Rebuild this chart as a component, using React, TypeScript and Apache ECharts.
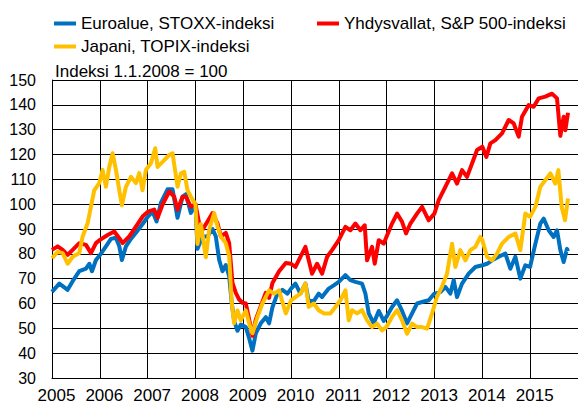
import React, { useEffect, useRef } from "react";
import * as echarts from "echarts";

const EURO_NAME = "Euroalue, STOXX-indeksi";
const USA_NAME = "Yhdysvallat, S&P 500-indeksi";
const JAPAN_NAME = "Japani, TOPIX-indeksi";
const TITLE = "Indeksi 1.1.2008 = 100";

const euroX = [
  2005.0, 2005.153, 2005.258, 2005.327, 2005.432, 2005.571, 2005.71, 2005.78, 2005.836, 2005.919,
  2006.003, 2006.128, 2006.233, 2006.337, 2006.407, 2006.462, 2006.546, 2006.65, 2006.755, 2006.894,
  2007.006, 2007.103, 2007.187, 2007.277, 2007.416, 2007.521, 2007.625, 2007.73, 2007.799, 2007.904,
  2008.0, 2008.043, 2008.148, 2008.252, 2008.357, 2008.426, 2008.496, 2008.565, 2008.635, 2008.705,
  2008.76, 2008.809, 2008.879, 2008.948, 2009.053, 2009.123, 2009.192, 2009.262, 2009.366, 2009.471,
  2009.54, 2009.61, 2009.714, 2009.819, 2009.923, 2010.0, 2010.091, 2010.195, 2010.3, 2010.369,
  2010.474, 2010.578, 2010.648, 2010.787, 2010.892, 2010.997, 2011.136, 2011.24, 2011.345, 2011.484,
  2011.554, 2011.624, 2011.728, 2011.833, 2011.937, 2011.993, 2012.111, 2012.216, 2012.321, 2012.425,
  2012.53, 2012.634, 2012.739, 2012.878, 2012.997, 2013.122, 2013.226, 2013.331, 2013.401, 2013.47,
  2013.575, 2013.714, 2013.854, 2014.0, 2014.098, 2014.202, 2014.341, 2014.481, 2014.585, 2014.69,
  2014.794, 2014.899, 2014.997, 2015.108, 2015.213, 2015.282, 2015.387, 2015.491, 2015.561, 2015.631,
  2015.7, 2015.77, 2015.791,
];
const euroY = [
  64.7, 68, 66.5, 65.5, 69, 73, 74, 76, 73, 77.5,
  79.5, 83, 86, 86.5, 83, 77.5, 83, 86, 88.5, 92,
  95, 97, 93, 100.5, 106, 106, 94.5, 103, 104, 96.5,
  100, 82, 87, 87, 90, 87, 77.5, 73, 75.5, 71,
  60, 53, 49, 51.5, 50.5, 46, 41, 48, 52, 54.5,
  52, 58.5, 64, 65.5, 64, 66, 68, 64, 68, 61,
  61, 64, 62.6, 66, 67.3, 68.7, 71.4, 69.4, 68.7, 68,
  64, 56, 52, 57, 53, 54.6, 58.6, 61.3, 57, 52,
  56, 60, 60.6, 61.3, 64, 64.6, 66.7, 64, 69.4, 62.6,
  68, 72, 74.7, 75.4, 76, 77.4, 78.8, 80.1, 74, 78.8,
  70, 75.4, 74.7, 84, 92.2, 94.2, 89.5, 86.8, 89.5, 81.5,
  76.7, 82, 81,
];

const usaX = [
  2005.0, 2005.118, 2005.223, 2005.327, 2005.432, 2005.571, 2005.71, 2005.815, 2005.919, 2006.003,
  2006.163, 2006.302, 2006.407, 2006.476, 2006.616, 2006.755, 2006.894, 2007.006, 2007.138, 2007.208,
  2007.312, 2007.451, 2007.556, 2007.625, 2007.73, 2007.799, 2007.904, 2008.0, 2008.078, 2008.148,
  2008.252, 2008.357, 2008.461, 2008.531, 2008.635, 2008.705, 2008.774, 2008.844, 2008.914, 2008.983,
  2009.053, 2009.123, 2009.192, 2009.262, 2009.366, 2009.471, 2009.54, 2009.61, 2009.749, 2009.889,
  2010.0, 2010.091, 2010.195, 2010.3, 2010.369, 2010.439, 2010.544, 2010.648, 2010.753, 2010.857,
  2010.997, 2011.136, 2011.24, 2011.345, 2011.449, 2011.54, 2011.589, 2011.693, 2011.749, 2011.833,
  2011.937, 2011.993, 2012.111, 2012.216, 2012.321, 2012.404, 2012.495, 2012.634, 2012.739, 2012.878,
  2012.997, 2013.087, 2013.226, 2013.366, 2013.47, 2013.575, 2013.679, 2013.784, 2013.889, 2014.0,
  2014.084, 2014.167, 2014.272, 2014.411, 2014.551, 2014.655, 2014.76, 2014.829, 2014.969, 2015.073,
  2015.178, 2015.317, 2015.456, 2015.561, 2015.631, 2015.7, 2015.735, 2015.791,
];
const usaY = [
  81.6, 83, 81.6, 79.6, 81.6, 84.3, 83.6, 80.3, 84.3, 85.6,
  87.6, 89, 86.3, 84.3, 87, 91, 95, 97, 97.8, 94.5,
  99.8, 105.1, 103, 97.8, 103, 103, 99, 100, 92.3, 89.7,
  93, 96.4, 92.3, 87, 88.4, 84.3, 68.3, 64.3, 61.6, 60.3,
  60, 53.6, 47, 53.6, 58.9, 64.3, 62.3, 68.3, 73, 76.3,
  76, 74.7, 78.8, 82.8, 77.4, 72, 76, 72, 78.8, 81.5,
  85.5, 90.9, 89.5, 92.2, 89.5, 91.5, 77.4, 82.8, 76, 85.5,
  84.1, 86.8, 92.2, 96.2, 92.9, 88.2, 92.2, 96.2, 98.9, 93.5,
  96.2, 101.6, 107, 112.4, 108.3, 113.7, 111, 116.4, 121.8, 123.1,
  119, 124.5, 125.8, 128.5, 133.9, 132.5, 127.2, 135.2, 139.9, 139.2,
  142.6, 143.3, 144.5, 142.6, 127.5, 135.2, 129.8, 136.8,
];

const japanX = [
  2005.0, 2005.118, 2005.223, 2005.327, 2005.432, 2005.571, 2005.641, 2005.745, 2005.815, 2005.884,
  2005.989, 2006.058, 2006.128, 2006.198, 2006.267, 2006.337, 2006.407, 2006.462, 2006.546, 2006.65,
  2006.755, 2006.825, 2006.894, 2006.964, 2007.068, 2007.159, 2007.208, 2007.312, 2007.451, 2007.521,
  2007.625, 2007.695, 2007.765, 2007.834, 2007.904, 2008.0, 2008.043, 2008.113, 2008.217, 2008.287,
  2008.391, 2008.461, 2008.531, 2008.635, 2008.705, 2008.76, 2008.809, 2008.879, 2008.948, 2009.053,
  2009.123, 2009.192, 2009.297, 2009.401, 2009.54, 2009.645, 2009.749, 2009.889, 2010.0, 2010.091,
  2010.195, 2010.3, 2010.369, 2010.474, 2010.578, 2010.683, 2010.822, 2010.927, 2011.031, 2011.136,
  2011.206, 2011.275, 2011.38, 2011.484, 2011.589, 2011.693, 2011.798, 2011.902, 2011.993, 2012.111,
  2012.216, 2012.321, 2012.425, 2012.53, 2012.634, 2012.739, 2012.843, 2012.948, 2013.049, 2013.153,
  2013.261, 2013.366, 2013.436, 2013.54, 2013.645, 2013.749, 2013.854, 2013.958, 2014.0, 2014.098,
  2014.202, 2014.307, 2014.411, 2014.551, 2014.69, 2014.794, 2014.899, 2014.997, 2015.108, 2015.213,
  2015.317, 2015.422, 2015.526, 2015.589, 2015.659, 2015.728, 2015.791,
];
const japanY = [
  78.3, 80.8, 80.3, 76, 78.8, 80.3, 87, 92.3, 99, 105.6,
  108.5, 113.8, 107, 115, 120.5, 113.8, 105.6, 99.6, 107, 111,
  108.5, 112.5, 105.6, 113.8, 116.5, 122.5, 115, 117, 119.8, 120.5,
  107, 112.4, 113, 105.6, 103, 100, 84, 92, 78.6, 89.7,
  96.4, 91, 87, 84.3, 79, 60, 52, 57.2, 53.2, 57.2,
  52, 48, 54.6, 60, 65.3, 64, 65.3, 56, 61.3, 62.6,
  64, 68, 58.6, 60, 57.3, 56, 56, 58.6, 61.3, 65.3,
  53.2, 57.3, 56, 57.3, 53.2, 50.5, 51.9, 49.2, 50.5, 54.6,
  57.3, 53.2, 47.8, 51.9, 50.5, 50.5, 49.9, 56, 62.6, 66.7,
  72, 84.1, 74.7, 81.5, 77.4, 81.5, 82.8, 86.8, 85.5, 78.8,
  77.4, 80.1, 84.1, 86.8, 88.2, 81.5, 96.2, 94.9, 98.9, 107,
  109.7, 112.4, 108.3, 113.7, 98.9, 93.5, 102.3,
];

const BLUE = "#0070C0";
const RED = "#FF0000";
const YELLOW = "#FFC000";

export default function App() {
  const ref = useRef<HTMLDivElement>(null);
  useEffect(() => {
    if (!ref.current) return;
    const chart = echarts.init(ref.current, null, { renderer: "svg" });
    const font = "'Liberation Sans', Arial, sans-serif";
    const zip = (xs: number[], ys: number[]) => xs.map((x, i) => [x, ys[i]]);
    const legendCommon = {
      icon: "rect",
      itemWidth: 22,
      itemHeight: 4,
      padding: 0,
      itemGap: 0,
      textStyle: { fontSize: 17, color: "#000", fontFamily: font },
    };
    const lineSeries = (name: string, xs: number[], ys: number[], color: string) => ({
      name,
      type: "line",
      data: zip(xs, ys),
      showSymbol: false,
      symbol: "none",
      color,
      lineStyle: { width: 4, color, join: "round" },
    });
    chart.setOption({
      animation: false,
      textStyle: { fontFamily: font },
      title: {
        text: TITLE,
        left: 55,
        top: 63,
        padding: 0,
        textStyle: { fontSize: 17, fontWeight: "normal", color: "#000", fontFamily: font },
      },
      legend: [
        { ...legendCommon, data: [EURO_NAME], left: 54, top: 15 },
        { ...legendCommon, data: [USA_NAME], left: 317, top: 15 },
        { ...legendCommon, data: [JAPAN_NAME], left: 54, top: 38 },
      ],
      grid: { left: 52, right: 0, top: 80, bottom: 27 },
      xAxis: {
        type: "value",
        min: 2005,
        max: 2016,
        interval: 1,
        axisLine: { show: true, lineStyle: { color: "#000", width: 1 } },
        axisTick: { show: false },
        splitLine: { show: true, lineStyle: { color: "#000", width: 1 } },
        axisLabel: {
          showMaxLabel: false,
          fontSize: 17,
          color: "#000",
          margin: 9,
          padding: [0, 0, 0, 9],
          fontFamily: font,
          formatter: (v: number) => String(v),
        },
      },
      yAxis: {
        type: "value",
        min: 30,
        max: 150,
        interval: 10,
        axisLine: { show: true, lineStyle: { color: "#000", width: 1 } },
        axisTick: { show: false },
        splitLine: { show: true, lineStyle: { color: "#000", width: 1 } },
        axisLabel: { fontSize: 16, color: "#000", margin: 16, fontFamily: font },
      },
      series: [
        lineSeries(EURO_NAME, euroX, euroY, BLUE),
        lineSeries(USA_NAME, usaX, usaY, RED),
        lineSeries(JAPAN_NAME, japanX, japanY, YELLOW),
      ],
    });
    return () => chart.dispose();
  }, []);
  return (
    <div
      ref={ref}
      style={{ position: "fixed", left: 0, top: 0, width: 578, height: 405, background: "#fff" }}
    />
  );
}
